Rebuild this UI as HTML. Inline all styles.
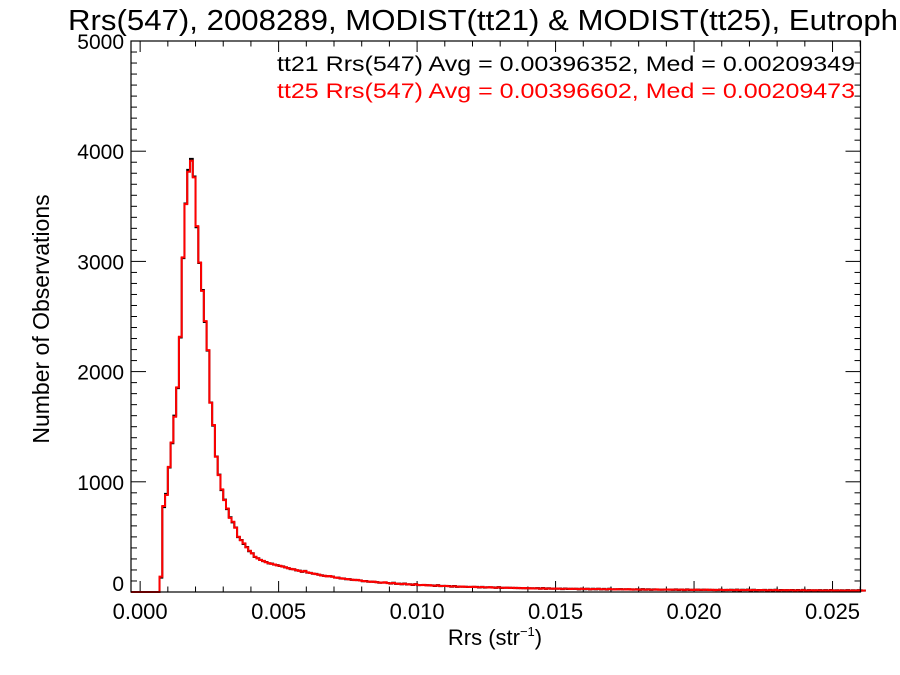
<!DOCTYPE html>
<html><head><meta charset="utf-8"><style>
html,body{margin:0;padding:0;background:#fff;}
svg{display:block;font-family:"Liberation Sans",Arial,sans-serif;}
</style></head><body>
<svg id="chart" width="900" height="675" viewBox="0 0 900 675" xmlns="http://www.w3.org/2000/svg">
<text x="68" y="30" font-size="29" textLength="830" lengthAdjust="spacingAndGlyphs" fill="#000">Rrs(547), 2008289, MODIST(tt21) &amp; MODIST(tt25), Eutroph</text>
<text x="855" y="71" font-size="21" text-anchor="end" textLength="578" lengthAdjust="spacingAndGlyphs" fill="#000">tt21 Rrs(547) Avg = 0.00396352, Med = 0.00209349</text>
<text x="855" y="98" font-size="21" text-anchor="end" textLength="578" lengthAdjust="spacingAndGlyphs" fill="#ff0000">tt25 Rrs(547) Avg = 0.00396602, Med = 0.00209473</text>
<text x="495" y="645" font-size="22" text-anchor="middle">Rrs (str<tspan dy="-9" font-size="13">−1</tspan><tspan dy="9">)</tspan></text>
<text transform="translate(49,319) rotate(-90)" font-size="23" text-anchor="middle">Number of Observations</text>
<g id="ticks"></g>
<g id="series"></g>
<rect x="131" y="41" width="729.5" height="551" fill="none" stroke="#000" stroke-width="1.2"/>
</svg>
<script>
const binStart = 0.0007;
const binWidth = 0.0001;
const xTicks = ["0.000","0.005","0.010","0.015","0.020","0.025"];
const yTicks = ["0","1000","2000","3000","4000","5000"];
const tt21 = [130,770,890,1130,1350,1600,1850,2310,3030,3525,3830,3930,3770,3310,2985,2740,2450,2190,1720,1510,1230,1065,925,838,752,678,632,585,498,472,436,408,370,352,318,306,
292,280,272,260,257,248,244,236,232,223,
217,208,207,196,194,183,192,176,174,166,
164,156,152,146,144,143,140,130,130,123,
122,116,117,110,110,108,106,98,100,93,
94,92,90,84,86,86,82,76,84,74,
76,70,77,68,70,64,72,62,64,63,
62,60,60,55,62,53,56,54,54,48,
54,47,50,48,48,45,47,46,46,41,
47,40,43,42,42,37,44,36,39,38,
38,36,37,35,36,34,35,33,34,32,
35,29,36,28,34,29,31,30,32,26,
32,27,29,28,30,24,31,25,30,23,
29,24,30,23,28,22,29,23,25,24,
26,23,25,24,24,22,25,19,26,20,
25,19,24,22,22,20,23,21,22,19,
24,18,23,17,24,18,20,19,21,18,
21,19,20,18,19,17,22,16,19,17,
20,15,21,14,20,17,21,14,20,15,
18,16,19,13,19,14,20,13,18,15,
17,15,18,12,18,13,19,12,17,14,
16,14,17,11,17,12,18,11,16,13,
16,12,17,10,16,11,17,10,15,12];
const tt25 = [140,780,880,1136,1357,1590,1857,2316,3036,3520,3813,3913,3762,3320,2990,2733,2458,2195,1717,1515,1227,1061,931,834,758,673,637,583,501,470,441,405,374,350,320,305,
290,282,270,262,255,250,242,238,230,225,
215,210,205,198,192,185,190,178,172,168,
162,158,150,148,142,145,138,132,128,125,
120,118,115,112,108,110,104,100,98,95,
92,94,88,86,84,88,80,78,82,76,
74,72,75,70,68,66,70,64,62,65,
60,62,58,57,60,55,54,56,52,50,
52,49,48,50,46,47,45,48,44,43,
45,42,41,44,40,39,42,38,37,40,
36,38,35,37,34,36,33,35,32,34,
33,31,34,30,32,31,29,32,30,28,
30,29,27,30,28,26,29,27,28,25,
27,26,28,25,26,24,27,25,23,26,
24,25,23,26,22,24,23,21,24,22,
23,21,22,24,20,22,21,23,20,21,
22,20,21,19,22,20,18,21,19,20,
19,21,18,20,17,19,20,18,17,19,
18,17,19,16,18,17,19,16,18,17,
16,18,17,15,17,16,18,15,16,17,
15,17,16,14,16,15,17,14,15,16,
14,16,15,13,15,14,16,13,14,15,
14,13,15,12,14,13,15,12,13,14];

const X0 = 131, X1 = 860.5, Y0 = 592, Y1 = 41;
const xMin = -0.00033, xMax = 0.02601, yMin = 0, yMax = 5000;
const xs = v => X0 + (v - xMin) / (xMax - xMin) * (X1 - X0);
const ys = v => Y0 - (v - yMin) / (yMax - yMin) * (Y0 - Y1);
const NS = "http://www.w3.org/2000/svg";
const ticks = document.getElementById('ticks');
const series = document.getElementById('series');
function mk(tag, attrs, parent){const e=document.createElementNS(NS,tag);for(const k in attrs)e.setAttribute(k,attrs[k]);parent.appendChild(e);return e;}

for (let i = 0; i <= 26; i++) {
  const v = i * 0.001, x = xs(v), major = i % 5 === 0, L = major ? 11 : 5.5;
  const t1 = mk('line',{x1:x,x2:x,y1:Y0,y2:Y0-L,stroke:'#000','stroke-width':1},ticks);
  
  
  const t2 = mk('line',{x1:x,x2:x,y1:Y1,y2:Y1+L,stroke:'#000','stroke-width':1},ticks);
  
  
}
xTicks.forEach(s => {
  const t = mk('text',{x:xs(parseFloat(s)),y:619,'font-size':22,'text-anchor':'middle'},ticks);
  t.textContent = s;
  
  
});
for (let i = 0; i <= 50; i++) {
  const v = i * 100, y = ys(v), major = i % 10 === 0, L = major ? 15 : 6;
  const t1 = mk('line',{x1:X0,x2:X0+L,y1:y,y2:y,stroke:'#000','stroke-width':1},ticks);
  
  
  const t2 = mk('line',{x1:X1,x2:X1-L,y1:y,y2:y,stroke:'#000','stroke-width':1},ticks);
  
  
}
yTicks.forEach(s => {
  const v = parseFloat(s);
  const t = mk('text',{x:124,y:Math.min(ys(v)+8, 591),'font-size':21,'text-anchor':'end'},ticks);
  t.textContent = s;
  
  
});

function stepPath(vals){
  let d = 'M' + X0 + ',' + ys(0) + ' L' + xs(binStart) + ',' + ys(0);
  vals.forEach((v, i) => {
    const a = xs(binStart + i * binWidth), b = Math.min(xs(binStart + (i + 1) * binWidth), X1);
    d += ' L' + a + ',' + ys(v) + ' L' + b + ',' + ys(v);
  });
  return d;
}
const p1 = mk('path',{d:stepPath(tt21),fill:'none',stroke:'#000','stroke-width':2},series);


const p2 = mk('path',{d:stepPath(tt25),fill:'none',stroke:'#ff0000','stroke-width':2},series);


</script>
</body></html>
